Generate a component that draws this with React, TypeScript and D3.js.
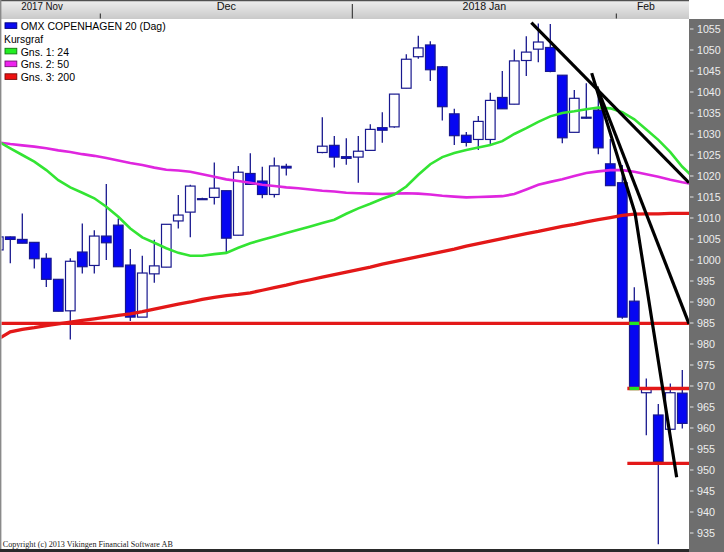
import React from 'react';
import * as d3 from 'd3';

const W = 724;
const H = 552;

// ---- data (index -1 .. 56, trading days; 24/25 are empty holiday slots)
const FIRST = -1;
const dates = [
  '2017-11-20','2017-11-21','2017-11-22','2017-11-23','2017-11-24','2017-11-27','2017-11-28','2017-11-29','2017-11-30',
  '2017-12-01','2017-12-04','2017-12-05','2017-12-06','2017-12-07','2017-12-08','2017-12-11','2017-12-12','2017-12-13',
  '2017-12-14','2017-12-15','2017-12-18','2017-12-19','2017-12-20','2017-12-21','2017-12-22','2017-12-25','2017-12-26',
  '2017-12-27','2017-12-28','2017-12-29','2018-01-02','2018-01-03','2018-01-04','2018-01-05','2018-01-08','2018-01-09',
  '2018-01-10','2018-01-11','2018-01-12','2018-01-15','2018-01-16','2018-01-17','2018-01-18','2018-01-19','2018-01-22',
  '2018-01-23','2018-01-24','2018-01-25','2018-01-26','2018-01-29','2018-01-30','2018-01-31','2018-02-01','2018-02-02',
  '2018-02-05','2018-02-06','2018-02-07','2018-02-08'
];
const opens = [
  1002.4, 1005.5, 1004.9, 1004.2, 1000.4, 995.4, 987.9, 1001.9, 998.7, 1005.7,
  1008.3, 998.8, 986.4, 996.7, 998.3, 1009.3, 1011.4, 1014.6, 1014.9, 1016.5,
  1005.9, 1020.6, 1018.8, 1015.6, 1022.3, null, null, 1025.6, 1027.3, 1024.6,
  1024.5, 1026.1, 1031.5, 1031.7, 1040.9, 1048.4, 1051.2, 1046.0, 1034.8, 1029.7,
  1028.7, 1028.7, 1038.7, 1037.1, 1047.5, 1050.2, 1050.6, 1044.0, 1030.4, 1034.0,
  1035.7, 1022.9, 1018.4, 990.2, 968.4, 963.1, 959.7, 968.3
];
const highs = [
  1005.5, 1005.6, 1011.1, 1004.3, 1001.6, 995.4, 1000.4, 1008.7, 1007.1, 1018.1,
  1009.9, 1002.6, 1001.0, 1004.8, 1008.5, 1015.5, 1017.9, 1014.8, 1023.2, 1016.5,
  1022.4, 1025.4, 1022.2, 1024.4, 1022.9, null, null, 1034.0, 1029.5, 1029.0,
  1029.5, 1032.3, 1035.2, 1039.5, 1049.0, 1053.4, 1052.1, 1046.2, 1036.0, 1030.5,
  1034.3, 1039.8, 1045.0, 1050.1, 1053.3, 1056.3, 1056.2, 1044.0, 1040.5, 1042.1,
  1039.5, 1028.8, 1022.6, 993.5, 971.8, 965.7, 970.6, 973.8
];
const lows = [
  1002.4, 999.2, 1004.0, 998.0, 993.6, 987.8, 981.1, 996.8, 996.8, 1000.0,
  998.4, 985.5, 986.4, 994.6, 998.3, 1007.5, 1005.4, 1014.3, 1013.2, 1001.8,
  1005.9, 1018.0, 1014.7, 1014.9, 1020.1, null, null, 1025.4, 1022.0, 1022.7,
  1018.4, 1026.1, 1027.9, 1031.5, 1040.9, 1047.9, 1042.6, 1033.2, 1027.4, 1027.0,
  1026.2, 1027.4, 1036.0, 1037.1, 1043.8, 1047.1, 1044.7, 1027.8, 1030.4, 1033.7,
  1025.2, 1017.7, 986.0, 969.5, 958.3, 932.3, 957.0, 959.9
];
const closes = [
  1005.5, 1004.9, 1004.0, 1000.3, 995.4, 987.8, 999.7, 998.4, 1005.7, 1004.1,
  998.4, 986.4, 996.9, 998.6, 1008.5, 1010.7, 1017.6, 1014.5, 1017.1, 1005.2,
  1020.9, 1018.0, 1015.6, 1022.4, 1021.9, null, null, 1027.1, 1024.5, 1024.2,
  1025.9, 1031.1, 1030.9, 1039.5, 1047.8, 1050.5, 1045.3, 1036.5, 1029.6, 1028.0,
  1033.0, 1038.0, 1036.0, 1047.4, 1049.5, 1051.9, 1044.9, 1029.1, 1038.5, 1033.8,
  1026.7, 1017.7, 986.4, 969.5, 969.2, 952.0, 968.4, 961.1
];

// moving averages, index -1 .. 57
const ma24 = [
  1028.2, 1026.6, 1025.0, 1023.4, 1021.4, 1019.0, 1017.3, 1016.0, 1014.7, 1012.7,
  1010.3, 1007.5, 1005.4, 1004.1, 1002.8, 1001.7, 1001.0, 1001.0, 1001.4, 1001.7,
  1002.9, 1004.0, 1004.8, 1005.6, 1006.4, 1007.2, 1008.0, 1008.8, 1009.6, 1011.0,
  1012.3, 1013.4, 1014.6, 1015.6, 1017.5, 1020.3, 1022.8, 1024.5, 1025.5, 1026.2,
  1026.8, 1027.4, 1028.3, 1030.0, 1031.4, 1032.9, 1034.2, 1035.0, 1035.4, 1035.9,
  1036.3, 1036.1, 1035.2, 1033.5, 1031.1, 1028.6, 1025.7, 1022.2, 1019.5
];
const ma50 = [
  1028.0, 1027.6, 1027.3, 1027.0, 1026.6, 1026.1, 1025.7, 1025.2, 1024.8, 1024.3,
  1023.7, 1023.1, 1022.6, 1022.0, 1021.5, 1021.3, 1021.0, 1020.4, 1019.8, 1019.2,
  1018.8, 1018.4, 1017.9, 1017.6, 1017.3, 1017.1, 1016.8, 1016.5, 1016.3, 1016.0,
  1015.9, 1015.8, 1015.7, 1015.8, 1015.9, 1015.8, 1015.6, 1015.3, 1015.1, 1014.9,
  1015.0, 1015.1, 1015.2, 1015.7, 1016.8, 1017.9, 1018.6, 1019.2, 1020.0, 1020.7,
  1021.1, 1021.4, 1021.4, 1021.0, 1020.4, 1019.8, 1019.1, 1018.5, 1018.0
];
const ma200 = [
  981.2, 982.9, 983.5, 983.9, 984.4, 984.8, 985.2, 985.6, 986.0, 986.4,
  986.8, 987.2, 987.7, 988.3, 988.9, 989.5, 990.0, 990.6, 991.1, 991.5,
  991.8, 992.2, 992.8, 993.4, 994.0, 994.7, 995.3, 995.9, 996.5, 997.1,
  997.7, 998.3, 999.0, 999.6, 1000.2, 1000.8, 1001.4, 1002.0, 1002.6, 1003.3,
  1003.9, 1004.5, 1005.1, 1005.7, 1006.3, 1006.8, 1007.4, 1008.0, 1008.5, 1009.1,
  1009.6, 1010.1, 1010.6, 1010.9, 1011.0, 1011.0, 1011.1, 1011.1, 1011.1
];

// drawn trend lines: [index, value]
const trendLine1: [number, number][] = [[43.42, 1056.5], [56.56, 1018.4]];
const trendLine2: [number, number][] = [[48.45, 1044.5], [52.06, 1011.2], [55.53, 948.3]];
const trendLine3: [number, number][] = [[48.87, 1041.3], [56.56, 984.8]];
// horizontal levels: [fromIndex, value]
const levels: [number, number][] = [[-2, 984.9], [51.42, 969.4], [51.42, 951.6]];

const yTicks = d3.range(935, 1056, 5);
const monthLabels = [
  { label: '2017 Nov', at: 2.65, w: 41.6 },
  { label: 'Dec', at: 18, w: 19.3 },
  { label: '2018 Jan', at: 39.5, w: 43.6 },
  { label: 'Feb', at: 52.97, w: 18 },
];
const monthBounds = [
  { at: 7.5, tall: false },
  { at: 28.5, tall: true },
  { at: 50.5, tall: false },
];
const legendItems = [
  { label: 'OMX COPENHAGEN 20 (Dag)', color: '#0a0af0', edge: '#00007a', w: 145 },
  { label: 'Kursgraf', color: null, edge: null, w: 39 },
  { label: 'Gns. 1: 24', color: '#22ee22', edge: '#117711', w: 48.3 },
  { label: 'Gns. 2: 50', color: '#ee22ee', edge: '#771177', w: 48.3 },
  { label: 'Gns. 3: 200', color: '#ee1111', edge: '#770808', w: 54.3 },
];

const PLOT_R = 689;
const PLOT_T = 19;
const PLOT_B = 549;

export default function App() {
  const x = d3.scaleLinear().domain([0, 56]).range([10.3, 682.3]);
  const y = d3.scaleLinear().domain([935, 1055]).range([533, 29]);
  const line = d3.line<[number, number]>().x((d) => x(d[0])).y((d) => y(d[1]));
  const maPts = (arr: number[]) => arr.map((v, k) => [k + FIRST, v] as [number, number]);

  const candles = opens.map((o, k) => ({
    i: k + FIRST, date: dates[k], o, h: highs[k], l: lows[k], c: closes[k],
  })).filter((d) => d.o != null) as any[];

  const bodyW = 9.6;
  const UI = "'Liberation Sans', Arial, sans-serif";
  const halfLineV = 1.6 / 4.2;

  return (
    <div style={{ position: 'fixed', left: 0, top: 0, width: W, height: H, background: '#fff' }}>
      <svg width={W} height={H} style={{ display: 'block' }}>
        <defs>
          <linearGradient id="hdr" x1="0" y1="0" x2="0" y2="1">
            <stop offset="0" stopColor="#efefef" />
            <stop offset="1" stopColor="#c9c9c9" />
          </linearGradient>
          <clipPath id="plot">
            <rect x={1.5} y={PLOT_T} width={PLOT_R - 1.5} height={PLOT_B - PLOT_T} />
          </clipPath>
        </defs>
        <rect x={0} y={0} width={W} height={H} fill="#fff" />

        <g clipPath="url(#plot)">
          {/* candles */}
          {candles.map((d) => {
            const cx = x(d.i);
            const up = d.c >= d.o;
            const top = y(Math.max(d.o, d.c));
            const bot = y(Math.min(d.o, d.c));
            return (
              <g key={d.date}>
                <line x1={cx} x2={cx} y1={y(d.h)} y2={y(d.l)} stroke="#18188e" strokeWidth={1.3} />
                <rect x={cx - bodyW / 2} y={top} width={bodyW} height={Math.max(bot - top, 1)}
                  fill={up ? '#ffffff' : '#0606f2'} stroke="#18188e" strokeWidth={1.2} />
              </g>
            );
          })}

          {/* moving averages */}
          <path d={line(maPts(ma200)) || ''} fill="none" stroke="#e31818" strokeWidth={3.3} />
          <path d={line(maPts(ma50)) || ''} fill="none" stroke="#df26df" strokeWidth={2.6} />
          <path d={line(maPts(ma24)) || ''} fill="none" stroke="#33e433" strokeWidth={2.6} />

          {/* horizontal levels */}
          {levels.map(([from, v], k) => (
            <line key={'lv' + k} x1={x(from)} x2={PLOT_R} y1={y(v)} y2={y(v)} stroke="#e31818" strokeWidth={3.3} />
          ))}
          {levels.map(([from, v], k) =>
            candles
              .filter((d) => d.c < d.o && d.i >= from && Math.min(d.o, d.c) <= v + halfLineV && Math.max(d.o, d.c) >= v - halfLineV)
              .map((d) => (
                <line key={'lg' + k + d.date} x1={x(d.i) - bodyW / 2} x2={x(d.i) + bodyW / 2}
                  y1={y(v)} y2={y(v)} stroke="#22e622" strokeWidth={3.3} />
              ))
          )}

          {/* trend lines */}
          {[trendLine1, trendLine2, trendLine3].map((t, k) => (
            <path key={'tl' + k} d={line(t) || ''} fill="none" stroke="#000" strokeWidth={3.2} strokeLinejoin="round" />
          ))}
        </g>

        {/* header */}
        <rect x={0} y={0} width={PLOT_R} height={PLOT_T} fill="url(#hdr)" />
        <line x1={0} x2={PLOT_R} y1={0.6} y2={0.6} stroke="#505050" strokeWidth={1.2} />
        {monthBounds.map((m, k) => (
          <line key={'mb' + k} x1={x(m.at)} x2={x(m.at)} y1={m.tall ? 4 : 13.5} y2={18.5} stroke="#222" strokeWidth={1} />
        ))}
        {monthLabels.map((m) => (
          <text key={m.label} x={x(m.at)} y={10.2} textAnchor="middle" fontFamily={UI} fontSize={10.3}
            fill="#111" textLength={m.w} lengthAdjust="spacingAndGlyphs">{m.label}</text>
        ))}

        {/* left frame */}
        <line x1={0.7} x2={0.7} y1={0} y2={H} stroke="#8a8a8a" strokeWidth={1.4} />
        {/* bottom frame */}
        <rect x={0} y={PLOT_B} width={PLOT_R} height={H - PLOT_B} fill="#2a2a2a" />

        {/* right axis */}
        <rect x={PLOT_R} y={PLOT_T} width={W - PLOT_R} height={H - PLOT_T} fill="#6e6e6e" />
        {yTicks.map((v) => (
          <g key={'yt' + v}>
            <line x1={PLOT_R + 1} x2={PLOT_R + 4.5} y1={y(v)} y2={y(v)} stroke="#e6e6e6" strokeWidth={1} />
            <text x={697} y={y(v) + 4.3} fontFamily={UI} fontSize={11.6} fill="#ededed"
              textLength={v >= 1000 ? 23.7 : 18} lengthAdjust="spacingAndGlyphs">{v}</text>
          </g>
        ))}

        {/* legend */}
        {legendItems.map((it, k) => {
          const base = 30 + k * 12.75;
          return (
            <g key={'lg' + k}>
              {it.color && (
                <rect x={5} y={base - 7.2} width={11.8} height={5.6} fill={it.color} stroke={it.edge as string} strokeWidth={0.9} />
              )}
              <text x={it.color ? 20.7 : 4} y={base} fontFamily={UI} fontSize={11} fill="#000"
                textLength={it.w} lengthAdjust="spacingAndGlyphs">{it.label}</text>
            </g>
          );
        })}

        {/* copyright */}
        <text x={2.8} y={546.6} fontFamily="'Liberation Serif', 'Times New Roman', serif" fontSize={8.2} fill="#1a1a1a"
          textLength={170} lengthAdjust="spacingAndGlyphs">Copyright (c) 2013 Vikingen Financial Software AB</text>
      </svg>
    </div>
  );
}
